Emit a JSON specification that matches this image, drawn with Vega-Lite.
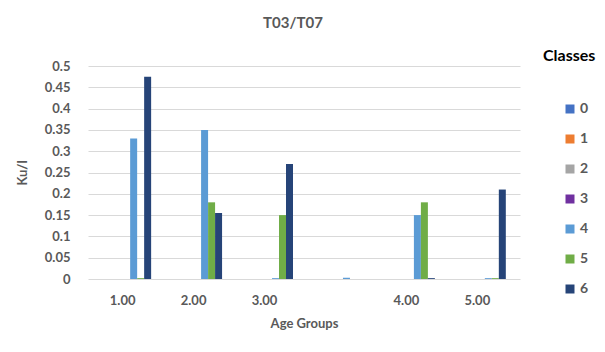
{
  "$schema": "https://vega.github.io/schema/vega-lite/v6.json",
  "width": 432,
  "height": 213,
  "autosize": {"type": "none"},
  "padding": {"left": 88, "top": 66, "right": 85, "bottom": 73},
  "background": "white",
  "title": {"text": "T03/T07", "fontSize": 15, "fontWeight": "bold", "color": "#595959", "font": "Lato", "offset": 17, "dx": -11},
  "config": {
    "font": "Lato",
    "view": {"stroke": null},
    "axis": {"labelColor": "#595959", "titleColor": "#595959", "labelFont": "Lato", "titleFont": "Lato", "labelFontWeight": "bold", "titleFontWeight": "bold", "labelFontSize": 13, "titleFontSize": 13, "domain": false, "ticks": false}
  },
  "data": {"values": [
    {"group": "1.00", "cls": "4", "value": 0.33},
    {"group": "1.00", "cls": "5", "value": 0.002},
    {"group": "1.00", "cls": "6", "value": 0.475},
    {"group": "2.00", "cls": "4", "value": 0.35},
    {"group": "2.00", "cls": "5", "value": 0.18},
    {"group": "2.00", "cls": "6", "value": 0.155},
    {"group": "3.00", "cls": "4", "value": 0.002},
    {"group": "3.00", "cls": "5", "value": 0.15},
    {"group": "3.00", "cls": "6", "value": 0.27},
    {"group": " ", "cls": "4", "value": 0.003},
    {"group": "4.00", "cls": "4", "value": 0.15},
    {"group": "4.00", "cls": "5", "value": 0.18},
    {"group": "4.00", "cls": "6", "value": 0.002},
    {"group": "5.00", "cls": "4", "value": 0.002},
    {"group": "5.00", "cls": "5", "value": 0.002},
    {"group": "5.00", "cls": "6", "value": 0.21}
  ]},
  "mark": {"type": "bar"},
  "encoding": {
    "x": {"field": "group", "type": "nominal", "sort": ["1.00", "2.00", "3.00", " ", "4.00", "5.00"],
      "scale": {"paddingInner": 0.31, "paddingOuter": 0.2},
      "axis": {"title": "Age Groups", "labelAngle": 0, "labelPadding": 15, "titlePadding": 10, "grid": false, "labelOffset": -4}},
    "xOffset": {"field": "cls", "type": "nominal", "scale": {"domain": ["0", "1", "2", "3", "4", "5", "6"], "paddingInner": 0, "paddingOuter": 0}},
    "y": {"field": "value", "type": "quantitative",
      "scale": {"domain": [0, 0.5], "nice": false},
      "axis": {"title": "Ku/l", "values": [0, 0.05, 0.1, 0.15, 0.2, 0.25, 0.3, 0.35, 0.4, 0.45, 0.5], "format": "~g", "labelPadding": 18, "titlePadding": 15, "gridColor": "#d9d9d9", "gridWidth": 1}},
    "color": {"field": "cls", "type": "nominal",
      "scale": {"domain": ["0", "1", "2", "3", "4", "5", "6"], "range": ["#4472C4", "#ED7D31", "#A5A5A5", "#7030A0", "#5B9BD5", "#70AD47", "#264478"]},
      "legend": {"title": "Classes", "orient": "none", "legendX": 455, "legendY": -18, "titleFontSize": 16, "titleFontWeight": "bold", "titleColor": "#000000", "titlePadding": 38, "labelFontSize": 14, "labelFontWeight": "bold", "labelColor": "#595959", "symbolType": "square", "symbolSize": 81, "symbolStrokeWidth": 0, "rowPadding": 16, "symbolOffset": 20, "labelOffset": 3}}
  }
}
